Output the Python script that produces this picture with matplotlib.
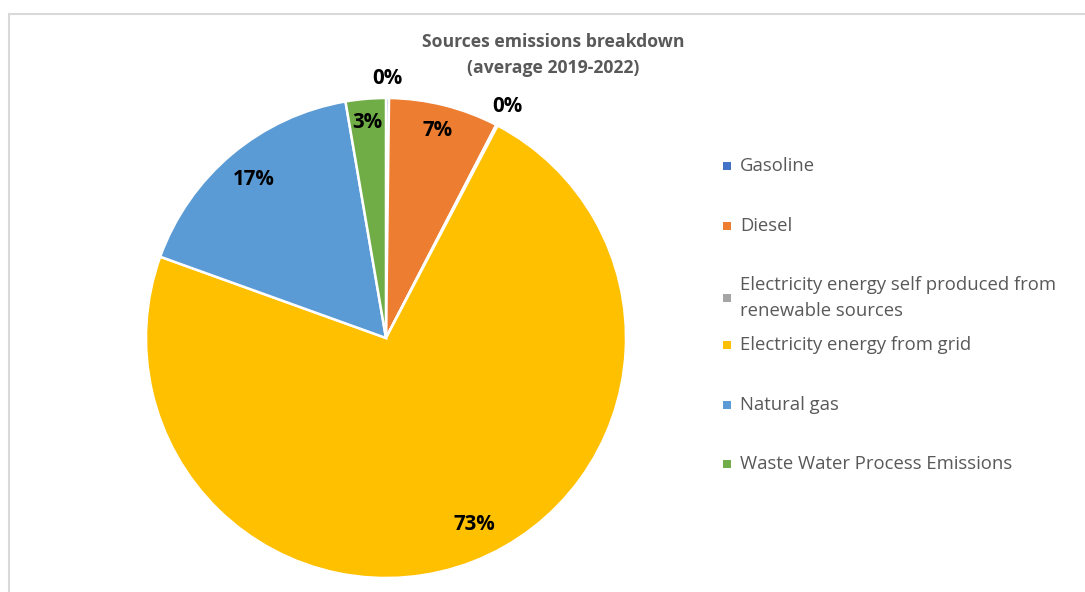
import numpy as np
import matplotlib
matplotlib.use("Agg")
import matplotlib.pyplot as plt
from matplotlib.patches import Rectangle

# Emission sources (share of total, %)
sources = [
    "Gasoline",
    "Diesel",
    "Electricity energy self produced from\nrenewable sources",
    "Electricity energy from grid",
    "Natural gas",
    "Waste Water Process Emissions",
]
shares = [0.2, 7.4, 0.1, 72.8, 16.8, 2.7]
colors = ["#4472C4", "#ED7D31", "#A5A5A5", "#FFC000", "#5B9BD5", "#70AD47"]
label_radius = [1.08, 0.89, 1.09, 0.86, 0.86, 0.90]
label_turn = [0, 0, 0, 4, 0, 0]   # degrees, counter-clockwise nudge

title_lines = ["Sources emissions breakdown", "(average 2019-2022)"]

W, H = 1085, 592
fig = plt.figure(figsize=(W / 100, H / 100), dpi=100)
fig.patch.set_facecolor("white")
plt.rcParams["font.family"] = ["Open Sans", "DejaVu Sans"]

# chart frame
fig.add_artist(Rectangle((8.5 / W, -0.1), 1.2, (592 - 13.5) / H + 0.1,
                         transform=fig.transFigure, fill=False,
                         edgecolor="#D9D9D9", linewidth=1.5))

# pie area: centre (386, 338) px, radius 240 px
cx, cy, r = 386, 338, 240
ax = fig.add_axes([(cx - r) / W, (H - cy - r) / H, 2 * r / W, 2 * r / H])
wedges, _ = ax.pie(shares, colors=colors, startangle=90, counterclock=False,
                   radius=1.0,
                   wedgeprops=dict(edgecolor="white", linewidth=1.8))
ax.set_xlim(-1, 1)
ax.set_ylim(-1, 1)
ax.set_aspect("equal")
ax.axis("off")

total = sum(shares)
for w, v, rd, turn in zip(wedges, shares, label_radius, label_turn):
    mid = np.deg2rad((w.theta1 + w.theta2) / 2 + turn)
    x, y = rd * np.cos(mid), rd * np.sin(mid)
    ax.text(x, y, f"{round(v / total * 100):.0f}%", ha="center", va="center",
            fontsize=14.8, fontweight="bold", color="black", clip_on=False)

# title
fig.text(553 / W, 1 - 42 / H, title_lines[0], ha="center", va="center",
         fontsize=12.7, fontweight="bold", color="#595959")
fig.text(553 / W, 1 - 68 / H, title_lines[1], ha="center", va="center",
         fontsize=12.7, fontweight="bold", color="#595959")

# legend
legend_y = [166, 226, 298, 345, 405, 464]
for name, col, ly in zip(sources, colors, legend_y):
    s = 8
    fig.add_artist(Rectangle(((727 - s / 2) / W, (H - ly - s / 2) / H), s / W, s / H,
                             transform=fig.transFigure, facecolor=col,
                             edgecolor="none"))
    fig.text(740 / W, 1 - ly / H, name, ha="left", va="center",
             fontsize=13.3, color="#595959", linespacing=1.62)

fig.savefig("out.png", dpi=100, facecolor="white")
